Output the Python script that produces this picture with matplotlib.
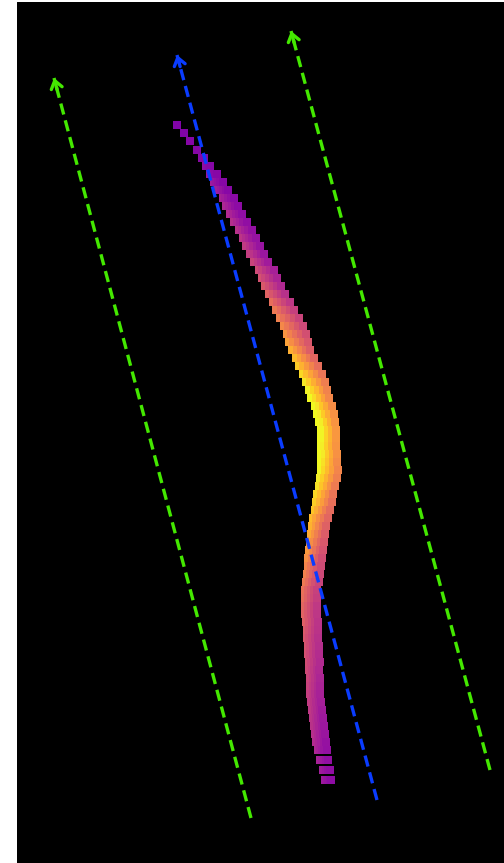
import numpy as np
import matplotlib
matplotlib.use("Agg")
from matplotlib import pyplot as plt

# track centre line (pixel frame, y grows downward), band width and colour value
track_y = [125, 133, 141, 150, 158, 166, 174, 182, 190, 198, 206, 214, 222, 230,
           238, 246, 254, 262, 270, 278, 286, 294, 302, 310, 318, 326, 334, 342,
           350, 358, 366, 374, 382, 390, 398, 406, 414, 422, 430, 438, 446, 454,
           462, 470, 478, 486, 494, 502, 510, 518, 526, 534, 542, 550, 558, 566,
           574, 582, 590, 598, 606, 614, 622, 630, 638, 646, 654, 662, 670, 678,
           686, 694, 702, 710, 718, 726, 734, 742, 750, 760, 770, 780]
track_x = [177, 184, 190, 197, 203, 208, 213, 218, 223, 228, 232, 236, 240, 245,
           249, 253, 257, 261, 266, 269, 273, 277, 281, 285, 289, 293, 296, 298,
           301, 305, 308, 312, 315, 318, 320, 323, 325, 327, 328, 328, 328, 329,
           329, 329, 328, 327, 325, 324, 322, 320, 319, 318, 317, 316, 315, 314,
           313, 312, 311, 311, 311, 311, 312, 312, 312, 313, 313, 314, 314, 315,
           315, 315, 316, 317, 318, 319, 320, 321, 322, 324, 326, 328]
track_w = [8, 8, 8, 8, 10, 12, 15, 17, 18, 19, 20, 20, 21, 21,
           21, 22, 22, 22, 23, 23, 24, 24, 25, 26, 27, 27, 27, 27,
           26, 26, 27, 27, 27, 26, 26, 25, 25, 24, 23, 23, 23, 24,
           24, 25, 25, 24, 24, 24, 23, 23, 22, 22, 22, 22, 22, 21,
           21, 21, 20, 20, 20, 20, 20, 19, 19, 19, 19, 19, 18, 18,
           18, 18, 18, 18, 18, 18, 18, 18, 17, 16, 15, 14]
track_v = [0.26, 0.26, 0.27, 0.27, 0.28, 0.29, 0.30, 0.31, 0.32, 0.33, 0.34, 0.35, 0.36, 0.37,
           0.38, 0.39, 0.40, 0.42, 0.44, 0.46, 0.48, 0.51, 0.54, 0.57, 0.59, 0.61, 0.64, 0.67,
           0.70, 0.73, 0.76, 0.79, 0.82, 0.84, 0.86, 0.88, 0.89, 0.90, 0.91, 0.91, 0.90, 0.89,
           0.87, 0.85, 0.83, 0.81, 0.79, 0.77, 0.75, 0.73, 0.71, 0.69, 0.67, 0.65, 0.63, 0.61,
           0.60, 0.58, 0.56, 0.55, 0.53, 0.52, 0.51, 0.50, 0.49, 0.48, 0.47, 0.46, 0.45, 0.44,
           0.43, 0.42, 0.41, 0.40, 0.39, 0.38, 0.37, 0.36, 0.35, 0.34, 0.33, 0.32]

# axis vectors: (tail x, tail y, head x, head y)
main_axis = (377, 800, 177, 55)
left_bound = (251, 818, 54, 78)
right_bound = (490, 770, 291, 31)

fig = plt.figure(figsize=(5.04, 8.63), dpi=100, facecolor="white")
ax = fig.add_axes([17 / 504, 0, 487 / 504, 861 / 863])
ax.set_facecolor("black")
ax.set_xlim(17, 504)
ax.set_ylim(863, 2)
ax.axis("off")
ax.add_patch(plt.Rectangle((17, 2), 487, 861, color="black", zorder=0))

cmap = plt.get_cmap("plasma")
sq = 8
offs = np.linspace(-1, 1, 5)
for t in offs:
    xs, ys, cs = [], [], []
    for x, y, w, v in zip(track_x, track_y, track_w, track_v):
        half = max(w - sq, 0) / 2
        xs.append(x + t * half)
        ys.append(y)
        cs.append(np.clip(v - 0.17 * t * min(half / 7, 1) * v, 0, 1))
    ax.scatter(xs, ys, s=(sq * 0.72) ** 2, marker="s", c=cmap(np.array(cs)),
               linewidths=0, zorder=2)


def draw_vector(vec, color):
    x0, y0, x1, y1 = vec
    ax.plot([x0, x1], [y0, y1], color=color, lw=2.4, dashes=(3.4, 1.8), zorder=3)
    dx, dy = x1 - x0, y1 - y0
    n = np.hypot(dx, dy)
    ax.annotate("", xy=(x1, y1), xytext=(x1 - dx / n * 12, y1 - dy / n * 12),
                arrowprops=dict(arrowstyle="->,head_length=0.55,head_width=0.4",
                                color=color, lw=2.4, shrinkA=0, shrinkB=0),
                zorder=3)


draw_vector(left_bound, "#44e800")
draw_vector(right_bound, "#44e800")
draw_vector(main_axis, "#0a3cff")

fig.savefig("out.png", dpi=100, facecolor="white")
